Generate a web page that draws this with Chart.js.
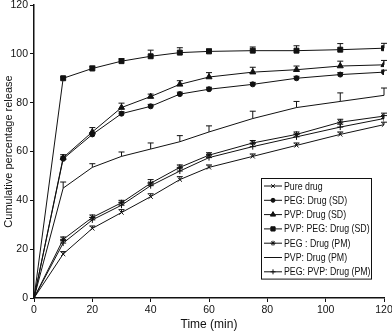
<!DOCTYPE html>
<html>
<head>
<meta charset="utf-8">
<script src="https://cdn.jsdelivr.net/npm/chart.js@4.4.1/dist/chart.umd.min.js"></script>
<style>
  html, body { margin: 0; padding: 0; background: #fff; }
  #wrap { width: 392px; height: 332px; }
</style>
</head>
<body>
<div id="wrap"><canvas id="chart-container" width="392" height="332"></canvas></div>
<script>
// time points (min)
const times = [0, 10, 20, 30, 40, 50, 60, 75, 90, 105, 120];

// cumulative % release per formulation
const pureDrug     = [0, 18, 28.5, 35, 41.5, 48.5, 53.5, 58, 62.5, 67, 71];
const pegDrugSD    = [0, 57, 67, 75.5, 78.5, 83.5, 85.5, 87.5, 90, 91.5, 92.5];
const pvpDrugSD    = [0, 57.5, 68, 78, 82.5, 87.5, 90.5, 92.5, 93.5, 95, 95.5];
const pvpPegDrugSD = [0, 90, 94, 97, 99, 100.5, 101, 101.3, 101.3, 101.7, 102.3];
const pegDrugPM    = [0, 24, 33, 39, 47, 53.5, 58.5, 63.5, 67, 72, 74.5];
const pvpDrugPM    = [0, 45, 53.5, 58, 61, 64, 68, 73.5, 78, 80.5, 83];
const pegPvpDrugPM = [0, 22.5, 32, 38, 46, 52, 57.5, 62, 66, 70, 73.5];

// upper error bars (SD)
const pureDrugErr     = [0, 1, 1, 1.2, 1.2, 1.2, 1, 1, 1, 1, 1];
const pegDrugSDErr    = [0, 0.8, 0.8, 0.8, 0.8, 0.8, 0.8, 0.8, 0.8, 0.8, 0.8];
const pvpDrugSDErr    = [0, 1.2, 1.8, 1.8, 1, 1.5, 1.8, 2, 1.5, 2, 1.8];
const pvpPegDrugSDErr = [0, 0.5, 1, 1, 2.5, 2, 1, 1.5, 2, 2.5, 2];
const pegDrugPMErr    = [0, 1, 1, 1, 1.5, 1, 1, 1, 1, 1.2, 1.2];
const pvpDrugPMErr    = [0, 2.5, 1.5, 1.8, 2.5, 2.5, 2.5, 3, 2.5, 3.5, 3];
const pegPvpDrugPMErr = [0, 1, 1, 1.2, 1.2, 1.2, 1.2, 1.2, 1.2, 1.2, 1.2];

const labels = ['Pure drug', 'PEG: Drug (SD)', 'PVP: Drug (SD)', 'PVP: PEG: Drug (SD)',
                'PEG : Drug (PM)', 'PVP: Drug (PM)', 'PEG: PVP: Drug (PM)'];
const values = [pureDrug, pegDrugSD, pvpDrugSD, pvpPegDrugSD, pegDrugPM, pvpDrugPM, pegPvpDrugPM];
const errors = [pureDrugErr, pegDrugSDErr, pvpDrugSDErr, pvpPegDrugSDErr, pegDrugPMErr, pvpDrugPMErr, pegPvpDrugPMErr];
const styles = ['crossRot', 'circle', 'triangle', 'rect', 'star', 'line', 'cross'];
const radii  = [3, 2.5, 3.5, 3.5, 3, 0, 3];

const ink = '#111';
const FONT = 'Liberation Sans, Arial, sans-serif';

const datasets = labels.map((label, i) => ({
  label: label,
  data: times.map((t, j) => ({ x: t, y: values[i][j] })),
  errors: errors[i],
  borderColor: ink,
  backgroundColor: ink,
  borderWidth: 1,
  pointStyle: styles[i],
  pointRadius: times.map((t) => t === 0 ? 0 : radii[i]),
  pointBorderWidth: 1,
  pointBorderColor: ink,
  pointBackgroundColor: ink,
  tension: 0,
  fill: false
}));

// draws the upward T-shaped error bars
const errorBars = {
  id: 'errorBars',
  afterDatasetsDraw(chart) {
    const ctx = chart.ctx;
    const y = chart.scales.y;
    ctx.save();
    ctx.strokeStyle = ink;
    ctx.lineWidth = 1;
    chart.data.datasets.forEach((ds, i) => {
      const meta = chart.getDatasetMeta(i);
      meta.data.forEach((pt, j) => {
        const e = ds.errors[j];
        if (!e) return;
        const top = y.getPixelForValue(ds.data[j].y + e);
        ctx.beginPath();
        ctx.moveTo(pt.x, pt.y);
        ctx.lineTo(pt.x, top);
        ctx.moveTo(pt.x - 3, top);
        ctx.lineTo(pt.x + 3, top);
        ctx.stroke();
      });
    });
    ctx.restore();
  }
};

// boxed legend inside the plot area
const boxLegend = {
  id: 'boxLegend',
  afterDraw(chart) {
    const ctx = chart.ctx;
    const area = chart.chartArea;
    const left = area.right - 123;
    const top = area.top + 173;
    const w = 110, rowH = 14.3;
    const h = rowH * chart.data.datasets.length + 0.5;
    ctx.save();
    ctx.fillStyle = '#fff';
    ctx.fillRect(left, top, w, h);
    ctx.strokeStyle = ink;
    ctx.lineWidth = 1;
    ctx.strokeRect(left + 0.5, top + 0.5, w, h);
    ctx.font = '11px ' + FONT;
    ctx.textBaseline = 'middle';
    chart.data.datasets.forEach((ds, i) => {
      const cy = top + 8 + i * rowH;
      ctx.strokeStyle = ink;
      ctx.beginPath();
      ctx.moveTo(left + 3, cy);
      ctx.lineTo(left + 21, cy);
      ctx.stroke();
      if (radii[i] > 0 && Chart.helpers && Chart.helpers.drawPoint) {
        ctx.fillStyle = ink;
        Chart.helpers.drawPoint(ctx, { pointStyle: styles[i], radius: radii[i] - 0.5, borderWidth: 1 }, left + 12, cy);
      }
      ctx.fillStyle = ink;
      // reference lettering is narrow, squeeze it a bit
      const tw = ctx.measureText(ds.label).width;
      ctx.fillText(ds.label, left + 23, cy + 0.5, tw * 0.8);
    });
    ctx.restore();
  }
};

const ctx = document.getElementById('chart-container').getContext('2d');
new Chart(ctx, {
  type: 'line',
  data: { datasets: datasets },
  plugins: [errorBars, boxLegend],
  options: {
    responsive: false,
    animation: false,
    layout: { padding: { top: 4, right: 8, left: 0, bottom: 0 } },
    plugins: { legend: { display: false }, tooltip: { enabled: false } },
    scales: {
      x: {
        type: 'linear',
        min: 0, max: 120,
        afterFit: (s) => { s.height = 34; s.paddingLeft = 0; s.paddingRight = 0; },
        ticks: { stepSize: 20, color: ink, padding: 2, font: { family: FONT, size: 10.5 } },
        grid: { drawOnChartArea: false, tickLength: 4, color: ink, tickWidth: 1 },
        border: { color: ink, width: 1.5 },
        title: { display: true, text: 'Time (min)', color: ink, padding: 0, font: { family: FONT, size: 12 } }
      },
      y: {
        min: 0, max: 120,
        afterFit: (s) => { s.width = 34; s.paddingTop = 0; s.paddingBottom = 0; },
        ticks: { stepSize: 20, color: ink, padding: 2, font: { family: FONT, size: 10.5 } },
        grid: { drawOnChartArea: false, tickLength: 4, color: ink, tickWidth: 1 },
        border: { color: ink, width: 1.5 },
        title: { display: true, text: 'Cumulative percentage release', color: ink, padding: { top: 2, bottom: 0 }, font: { family: FONT, size: 11 } }
      }
    }
  }
});
</script>
</body>
</html>
